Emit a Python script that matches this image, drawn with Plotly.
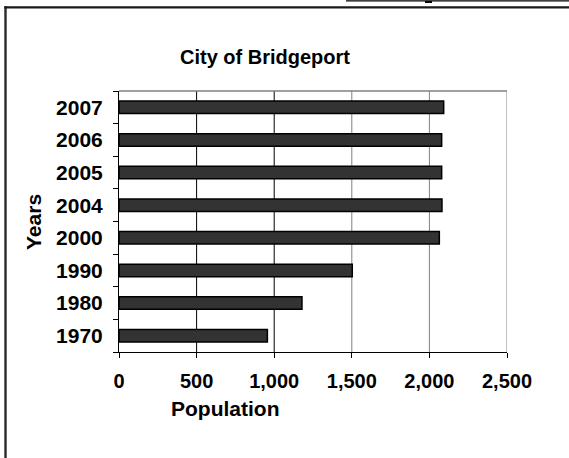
import plotly.graph_objects as go

years = ["1970", "1980", "1990", "2000", "2004", "2005", "2006", "2007"]
population = [956, 1179, 1503, 2064, 2081, 2079, 2079, 2092]
x_ticks = [0, 500, 1000, 1500, 2000, 2500]
x_tick_labels = ["0", "500", "1,000", "1,500", "2,000", "2,500"]
grid_colors = ["#000000", "#000000", "#000000", "#808080", "#808080", "#808080"]

W, H = 569, 458
FONT = "Liberation Sans, Arial, sans-serif"

# plot-area pixel box
PL, PR, PT, PB = 119, 507, 91, 352
PW, PH = PR - PL, PB - PT


def px(x):
    return (x - PL) / PW


def py(y):
    return (PB - y) / PH


fig = go.Figure(go.Bar(
    y=years, x=population, orientation="h",
    marker=dict(color="#333333", line=dict(color="#000000", width=1.5)),
))

shapes = []
for v, c in zip(x_ticks[1:], grid_colors[1:]):
    shapes.append(dict(type="line", xref="x", yref="y domain", x0=v, x1=v, y0=0, y1=1,
                       line=dict(color=c, width=1), layer="below"))
# plot area top border
shapes.append(dict(type="line", xref="x domain", yref="y domain", x0=0, x1=1, y0=1, y1=1,
                   line=dict(color="#808080", width=1.5)))
# outer frame: left edge (filled strip)
shapes.append(dict(type="rect", xref="paper", yref="paper",
                   x0=px(4.3), x1=px(6.7), y0=py(460), y1=py(6.3),
                   line=dict(width=0), fillcolor="#2a2a2a"))
# outer frame: top edge (filled strip)
shapes.append(dict(type="rect", xref="paper", yref="paper",
                   x0=px(4.3), x1=px(569), y0=py(8.6), y1=py(6.3),
                   line=dict(width=0), fillcolor="#1a1a1a"))
# top-right line
shapes.append(dict(type="line", xref="paper", yref="paper",
                   x0=px(346), x1=px(580), y0=py(0.8), y1=py(0.8),
                   line=dict(color="#000000", width=1.2)))
shapes.append(dict(type="line", xref="paper", yref="paper",
                   x0=px(425), x1=px(432), y0=py(2), y1=py(2),
                   line=dict(color="#000000", width=2)))

fig.update_layout(
    width=W, height=H,
    margin=dict(l=PL, r=W - PR, t=PT, b=H - PB),
    paper_bgcolor="white", plot_bgcolor="white",
    showlegend=False,
    bargap=0.62,
    font=dict(family=FONT, color="#000000"),
    shapes=shapes,
    annotations=[
        dict(text="<b>City of Bridgeport</b>", xref="paper", yref="paper",
             x=px(265), y=py(57), showarrow=False,
             font=dict(size=20, family=FONT), xanchor="center", yanchor="middle"),
        dict(text="<b>Years</b>", xref="paper", yref="paper",
             x=px(33), y=py(222), showarrow=False, textangle=-90,
             font=dict(size=21, family=FONT), xanchor="center", yanchor="middle"),
        dict(text="<b>Population</b>", xref="paper", yref="paper",
             x=px(225), y=py(408), showarrow=False,
             font=dict(size=21, family=FONT), xanchor="center", yanchor="middle"),
    ],
)

fig.update_xaxes(
    range=[0, 2500], tickvals=x_ticks, ticktext=x_tick_labels,
    showgrid=False, zeroline=False,
    showline=True, linecolor="#000000", linewidth=1,
    ticks="outside", ticklen=5, tickcolor="#000000", ticklabelstandoff=6,
    tickfont=dict(size=20, family=FONT, weight="bold"),
)
fig.update_yaxes(
    categoryorder="array", categoryarray=years,
    showgrid=False, zeroline=False,
    showline=True, linecolor="#000000", linewidth=1,
    ticks="outside", ticklen=5, tickcolor="#000000", tickson="boundaries",
    ticklabelstandoff=11,
    tickfont=dict(size=21, family=FONT, weight="bold"),
)

fig.write_html("out.html", config={"displayModeBar": False},
               post_script="document.body.style.margin='0';")
